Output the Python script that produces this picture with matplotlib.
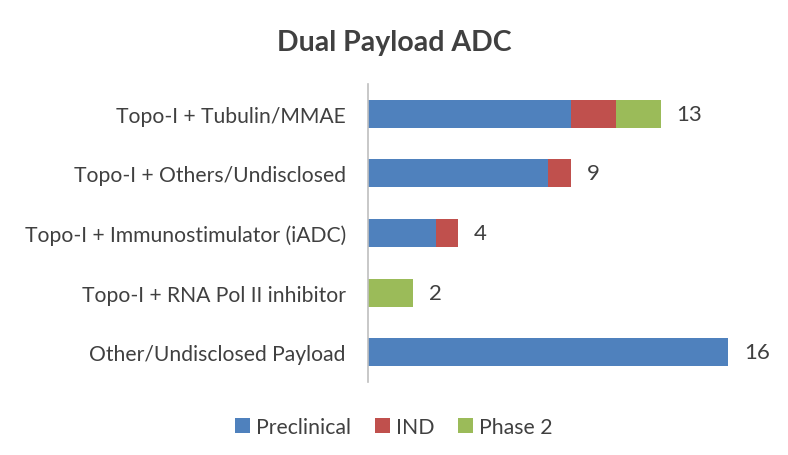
import matplotlib
matplotlib.use("Agg")
import matplotlib.pyplot as plt
import numpy as np

categories = ["Topo-I + Tubulin/MMAE", "Topo-I + Others/Undisclosed",
              "Topo-I + Immunostimulator (iADC)", "Topo-I + RNA Pol II inhibitor",
              "Other/Undisclosed Payload"]
preclinical = [9, 8, 3, 0, 16]
ind = [2, 1, 1, 0, 0]
phase2 = [2, 0, 0, 2, 0]
totals = [13, 9, 4, 2, 16]
series_names = ["Preclinical", "IND", "Phase 2"]
colors = ["#4F81BD", "#C0504D", "#9BBB59"]

plt.rcParams['font.family'] = ['Lato', 'DejaVu Sans']

fig = plt.figure(figsize=(7.88, 4.56), dpi=100)
ax = fig.add_axes([368/788, 1-383/456, (728-368)/788, (383-85)/456])

y = np.arange(len(categories))
left = np.zeros(len(categories))
handles = []
for vals, name, c in zip([preclinical, ind, phase2], series_names, colors):
    h = ax.barh(y, vals, left=left, height=0.47, color=c, label=name)
    handles.append(h)
    left += np.array(vals)

for yi, t in zip(y, totals):
    ax.text(t + 0.72, yi, str(t), va='center', ha='left', fontsize=16, color='#404040')

ax.set_xlim(0, 16)
ax.set_ylim(len(categories) - 0.5, -0.5)
ax.set_yticks(y)
ax.set_yticklabels(categories, fontsize=15.2, color='#404040')
ax.tick_params(axis='y', length=0, pad=16)
ax.set_xticks([])
for s in ['top', 'right', 'bottom']:
    ax.spines[s].set_visible(False)
ax.spines['left'].set_color('#BFBFBF')
ax.spines['left'].set_linewidth(1.2)

fig.text(0.5, 1-43/456, "Dual Payload ADC", ha='center', va='center',
         fontsize=20.5, fontweight='bold', color='#404040')

fig.legend(handles=handles, labels=series_names, loc='center',
           bbox_to_anchor=(0.5, 1-428/456), ncol=3, frameon=False,
           fontsize=15.3, handlelength=0.7, handleheight=0.7, columnspacing=1.1,
           handletextpad=0.3, labelcolor='#404040')

fig.savefig("out.png", dpi=100)
